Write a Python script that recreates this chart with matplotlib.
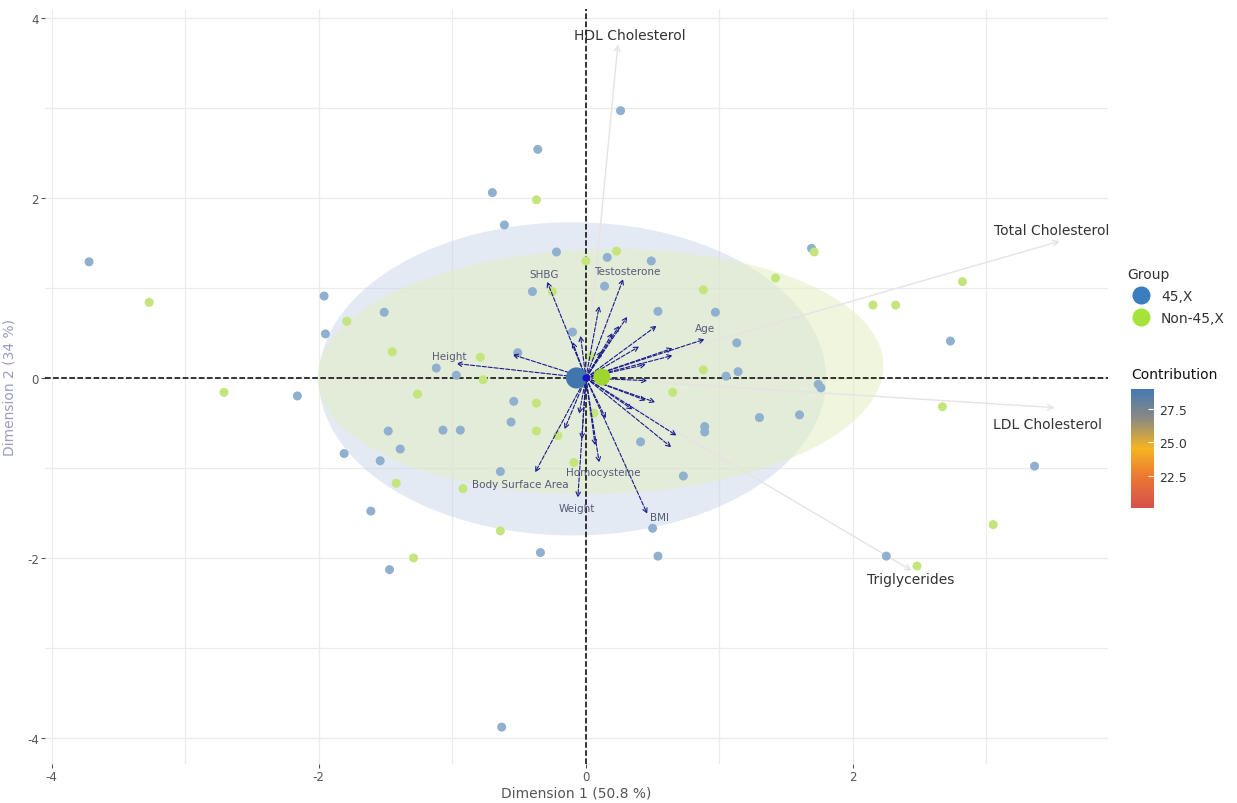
import numpy as np
import matplotlib
matplotlib.use("Agg")
import matplotlib.pyplot as plt
from matplotlib.patches import Ellipse
from matplotlib.lines import Line2D
from matplotlib.colors import LinearSegmentedColormap, Normalize
from matplotlib.cm import ScalarMappable

plt.rcParams["axes.unicode_minus"] = False

# individuals, group 45,X
blue_x = [-3.72, 0.26, -0.36, -0.70, -0.61, -0.22, -1.96, -1.95, -1.51, -2.16,
          -1.12, -0.97, -1.81, -1.48, -1.39, -1.54, -1.61, -1.47, -1.07, -0.94,
          -0.64, -0.54, -0.56, -0.40, -0.34, -0.63, -0.51, -0.10, 0.16, 0.14,
          0.49, 0.54, 0.97, 1.13, 1.05, 1.14, 0.89, 0.89, 0.41, 0.73,
          0.50, 0.54, 1.60, 1.74, 1.76, 1.30, 1.69, 2.73, 3.36, 2.25]
blue_y = [1.29, 2.97, 2.54, 2.06, 1.70, 1.40, 0.91, 0.49, 0.73, -0.20,
          0.11, 0.03, -0.84, -0.59, -0.79, -0.92, -1.48, -2.13, -0.58, -0.58,
          -1.04, -0.26, -0.49, 0.96, -1.94, -3.88, 0.28, 0.51, 1.34, 1.02,
          1.30, 0.74, 0.73, 0.39, 0.02, 0.07, -0.54, -0.60, -0.71, -1.09,
          -1.67, -1.98, -0.41, -0.07, -0.11, -0.44, 1.44, 0.41, -0.98, -1.98]

# individuals, group Non-45,X
green_x = [-3.27, -2.71, -1.79, -1.45, -1.26, -1.42, -1.29, -0.92, -0.79, -0.77,
           -0.37, -0.37, -0.37, -0.64, 0.00, 0.23, 0.88, 0.88, 0.65, -0.25,
           -0.21, -0.09, 0.04, 0.06, 1.42, 1.71, 2.15, 2.32, 2.82, 2.67,
           3.05, 2.48]
green_y = [0.84, -0.16, 0.63, 0.29, -0.18, -1.17, -2.00, -1.23, 0.23, -0.02,
           1.98, -0.28, -0.59, -1.70, 1.30, 1.41, 0.98, 0.09, -0.16, 0.96,
           -0.64, -0.94, 0.24, -0.39, 1.11, 1.40, 0.81, 0.81, 1.07, -0.32,
           -1.63, -2.09]

# group centroids
cent_x = [-0.07, 0.12]
cent_y = [0.00, 0.01]

# variable arrows (labelled)
var_names = ["Height", "SHBG", "Testosterone", "Age", "Homocysteine",
             "Body Surface Area", "Weight", "BMI"]
var_x = [-0.97, -0.29, 0.28, 0.89, 0.10, -0.38, -0.06, 0.46]
var_y = [0.16, 1.07, 1.10, 0.43, -0.94, -1.05, -1.33, -1.51]
lab_x = [-1.02, -0.31, 0.31, 0.89, 0.13, -0.49, -0.07, 0.55]
lab_y = [0.24, 1.16, 1.19, 0.55, -1.04, -1.18, -1.44, -1.55]

# unlabelled small arrows
other_x = [-0.55, -0.04, 0.65, 0.65, 0.53, 0.31, 0.25, 0.20, 0.40, 0.45,
           0.46, 0.52, 0.45, 0.68, 0.64, -0.16, -0.03, 0.07, -0.10, 0.15,
           0.35, -0.05, 0.10, 0.12]
other_y = [0.26, 0.47, 0.25, 0.33, 0.58, 0.68, 0.58, 0.50, 0.35, 0.15,
           -0.03, -0.27, -0.25, -0.64, -0.77, -0.57, -0.68, -0.75, 0.40, -0.45,
           -0.35, -0.40, 0.80, 0.30]

# lipid arrows (long, light)
lip_names = ["HDL Cholesterol", "Total Cholesterol", "LDL Cholesterol", "Triglycerides"]
lip_x = [0.24, 3.55, 3.51, 2.44]
lip_y = [3.71, 1.52, -0.33, -2.14]
lip_lx = [0.33, 3.49, 3.46, 2.43]
lip_ly = [3.81, 1.64, -0.51, -2.23]

fig = plt.figure(figsize=(12.37, 8.04), dpi=100)
ax = fig.add_axes([45 / 1237, 1 - 765 / 804, 1063 / 1237, 755 / 804])

ax.set_xlim(-4.05, 3.91)
ax.set_ylim(-4.29, 4.10)
ax.set_xticks([-4, -2, 0, 2])
ax.set_yticks([-4, -2, 0, 2, 4])
ax.set_xticks([-3, -1, 1, 3], minor=True)
ax.set_yticks([-3, -1, 1, 3], minor=True)
ax.grid(True, which="both", color="#ebebeb", lw=0.9)
ax.set_axisbelow(True)
for s in ax.spines.values():
    s.set_visible(False)
ax.tick_params(which="major", length=3, pad=1.5, color="#555555", labelcolor="#555555",
               labelsize=8.5)
ax.tick_params(which="minor", length=0)

# concentration ellipses
ax.add_patch(Ellipse((-0.10, -0.01), 3.80, 3.48, angle=0, facecolor="#c9d6ea", alpha=0.5,
                     edgecolor="none", zorder=1))
ax.add_patch(Ellipse((0.11, 0.07), 4.24, 2.72, angle=3, facecolor="#e2efc2", alpha=0.55,
                     edgecolor="none", zorder=1))

ax.axhline(0, color="black", ls="--", lw=1.1, zorder=2)
ax.axvline(0, color="black", ls="--", lw=1.1, zorder=2)

ax.scatter(blue_x, blue_y, s=42, color="#8fb0cf", edgecolor="none", zorder=3)
ax.scatter(green_x, green_y, s=42, color="#c4e57c", edgecolor="none", zorder=3)

# long lipid arrows
for x, y in zip(lip_x, lip_y):
    ax.annotate("", xy=(x, y), xytext=(0, 0),
                arrowprops=dict(arrowstyle="->", color="#e4e4e4", lw=1.0,
                                shrinkA=0, shrinkB=0), zorder=2)
for name, x, y in zip(lip_names, lip_lx, lip_ly):
    ax.text(x, y, name, ha="center", va="center", fontsize=10, color="#333333", zorder=5)

# small variable arrows
for x, y in zip(other_x + var_x, other_y + var_y):
    ax.annotate("", xy=(x, y), xytext=(0, 0),
                arrowprops=dict(arrowstyle="->", color="#1a1a8c", lw=0.8, ls="--",
                                shrinkA=0, shrinkB=0, mutation_scale=8), zorder=4)
for name, x, y in zip(var_names, lab_x, lab_y):
    ax.text(x, y, name, ha="center", va="center", fontsize=7.5, color="#565a78", zorder=5)

ax.scatter(cent_x[:1], cent_y[:1], s=230, color="#3f76ad", edgecolor="none", zorder=5)
ax.scatter(cent_x[1:], cent_y[1:], s=150, color="#9fd62e", edgecolor="none", zorder=5)
ax.scatter([0.0], [0.0], s=25, color="#1515c8", edgecolor="none", zorder=6)

ax.set_xlabel("Dimension 1 (50.8 %)", fontsize=10, color="#555555")
ax.set_ylabel("Dimension 2 (34 %)", fontsize=10, color="#9a9ac4")
ax.xaxis.set_label_coords(0.5, (765 - 787) / 755)
ax.yaxis.set_label_coords((17 - 45) / 1063, 0.5)

# group legend
handles = [Line2D([], [], marker="o", ls="none", markersize=12, color="#3a7ebf"),
           Line2D([], [], marker="o", ls="none", markersize=12, color="#a6e33a")]
leg = fig.legend(handles, ["45,X", "Non-45,X"], title="Group", loc="upper left",
                 bbox_to_anchor=(1122 / 1237, 1 - 262 / 804), frameon=False,
                 fontsize=10, title_fontsize=10, handletextpad=0.4, labelspacing=0.6,
                 borderaxespad=0)
leg._legend_box.align = "left"
for t in leg.get_texts():
    t.set_color("#333333")
leg.get_title().set_color("#333333")

# contribution colourbar
cmap = LinearSegmentedColormap.from_list(
    "contrib", ["#d6504a", "#ea7634", "#f6b421", "#8c8b80", "#4678b4"])
norm = Normalize(20.1, 29.0)
cax = fig.add_axes([1131 / 1237, 1 - 509 / 804, 23 / 1237, 119 / 804])
cb = fig.colorbar(ScalarMappable(norm=norm, cmap=cmap), cax=cax)
cb.outline.set_visible(False)
cb.set_ticks([22.5, 25.0, 27.5])
cb.ax.tick_params(length=4, color="white", labelsize=9, labelcolor="#333333", direction="in")
fig.text(1131 / 1237, 1 - 375 / 804, "Contribution", fontsize=10, color="#111111",
         ha="left", va="center")

fig.savefig("out.png", dpi=100)
